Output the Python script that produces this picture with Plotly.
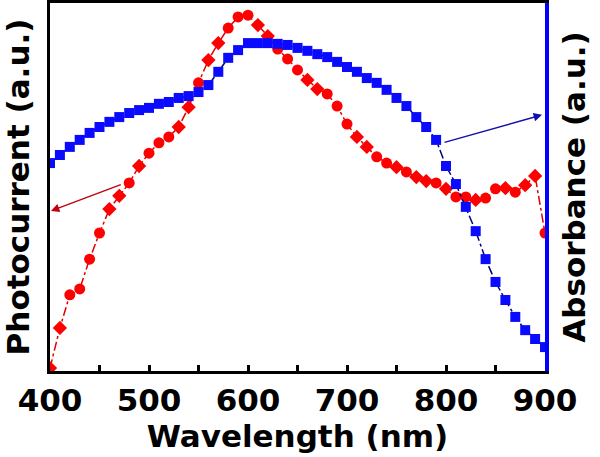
import plotly.graph_objects as go

wavelength = list(range(400, 901, 10))

photocurrent = [0.8, 11.7, 20.7, 22.3, 30.4, 37.5, 44.0, 47.6, 51.1, 55.7,
                59.2, 62.0, 63.6, 66.3, 71.7, 78.3, 84.5, 89.1, 93.2, 96.2,
                96.7, 94.0, 91.0, 87.5, 84.8, 81.8, 79.1, 76.6, 75.3, 72.0,
                67.1, 63.6, 60.9, 58.2, 56.5, 55.4, 54.1, 52.7, 51.6, 51.1,
                49.5, 47.3, 47.3, 46.5, 47.0, 49.5, 49.7, 48.6, 50.5, 53.0,
                37.5]

absorbance = [56.5, 58.7, 60.9, 62.8, 64.7, 66.3, 67.7, 69.0, 70.1, 70.9,
              71.5, 72.6, 73.1, 74.2, 74.7, 75.8, 77.7, 81.3, 85.1, 87.2,
              89.1, 89.1, 89.1, 88.9, 88.6, 87.8, 87.0, 86.1, 85.3, 84.0,
              82.6, 81.3, 79.6, 78.3, 76.4, 74.2, 72.0, 69.0, 66.3, 62.8,
              55.7, 50.8, 44.6, 38.0, 30.4, 24.2, 19.3, 14.7, 11.1, 8.7,
              6.5]

x_ticks = [400, 500, 600, 700, 800, 900]

# marker style pattern for the photocurrent series (mix of circles and diamonds)
red_symbols = ["diamond", "diamond", "circle", "circle", "circle", "circle", "diamond", "diamond",
               "circle", "diamond", "circle", "circle", "circle", "diamond", "diamond", "circle",
               "diamond", "diamond", "circle", "circle", "circle", "diamond", "diamond", "circle",
               "circle", "circle", "diamond", "diamond", "circle", "circle", "circle", "diamond",
               "diamond", "circle", "circle", "diamond", "circle", "diamond", "diamond", "circle",
               "diamond", "circle", "circle", "diamond", "circle", "circle", "diamond", "circle",
               "diamond", "diamond", "circle"]

FONT = "DejaVu Sans"
TF = dict(family=FONT, size=31, color="black", weight="bold")

fig = go.Figure()

fig.add_trace(go.Scatter(
    x=wavelength, y=absorbance, yaxis="y2", mode="lines+markers",
    line=dict(color="#00007a", width=1.5, dash="dashdot"),
    marker=dict(symbol="square", size=10, color="#0a0aff", opacity=1, line=dict(width=0)),
    showlegend=False, hoverinfo="skip",
))

fig.add_trace(go.Scatter(
    x=wavelength, y=photocurrent, yaxis="y", mode="lines+markers",
    line=dict(color="#e00000", width=1.5, dash="dashdot"),
    marker=dict(symbol=red_symbols, size=11, color="#ff0000", opacity=1, line=dict(width=0)),
    showlegend=False, hoverinfo="skip",
))

# arrows
fig.add_annotation(x=401, y=43.5, ax=473, ay=50.8, xref="x", yref="y", axref="x", ayref="y",
                   showarrow=True, arrowhead=2, arrowsize=1.2, arrowwidth=1.4,
                   arrowcolor="#c00010", text="")
fig.add_annotation(x=897, y=69.6, ax=797, ay=62.0, xref="x", yref="y2", axref="x", ayref="y2",
                   showarrow=True, arrowhead=2, arrowsize=1.2, arrowwidth=1.4,
                   arrowcolor="#1010b0", text="")

fig.update_layout(
    width=600, height=457,
    margin=dict(l=50, r=55, t=3, b=86, autoexpand=False),
    plot_bgcolor="white", paper_bgcolor="white",
    font=TF,
    xaxis=dict(
        range=[400, 900], tickvals=x_ticks, ticktext=[str(v) for v in x_ticks],
        ticks="inside", ticklen=6, tickwidth=3, tickcolor="black",
        minor=dict(dtick=50, tick0=400, ticks="inside", ticklen=6, tickwidth=3, tickcolor="black"),
        showline=True, linecolor="black", linewidth=3, mirror=True,
        showgrid=False, zeroline=False, automargin=False,
        tickfont=TF,
        title=dict(text="Wavelength (nm)", font=TF, standoff=0),
    ),
    yaxis=dict(
        range=[0, 100], showticklabels=False, ticks="",
        showline=True, linecolor="black", linewidth=3,
        showgrid=False, zeroline=False, automargin=False,
        title=dict(text="Photocurrent (a.u.)", font=TF, standoff=14),
    ),
    yaxis2=dict(
        range=[0, 100], overlaying="y", side="right", showticklabels=False, ticks="",
        showline=True, linecolor="#0000ff", linewidth=4,
        showgrid=False, zeroline=False, automargin=False,
        title=dict(text="Absorbance (a.u.)", font=TF, standoff=16),
    ),
)

fig.write_html("out.html", config={"displayModeBar": False},
               post_script="document.body.style.margin='0';document.body.style.overflow='hidden';")
